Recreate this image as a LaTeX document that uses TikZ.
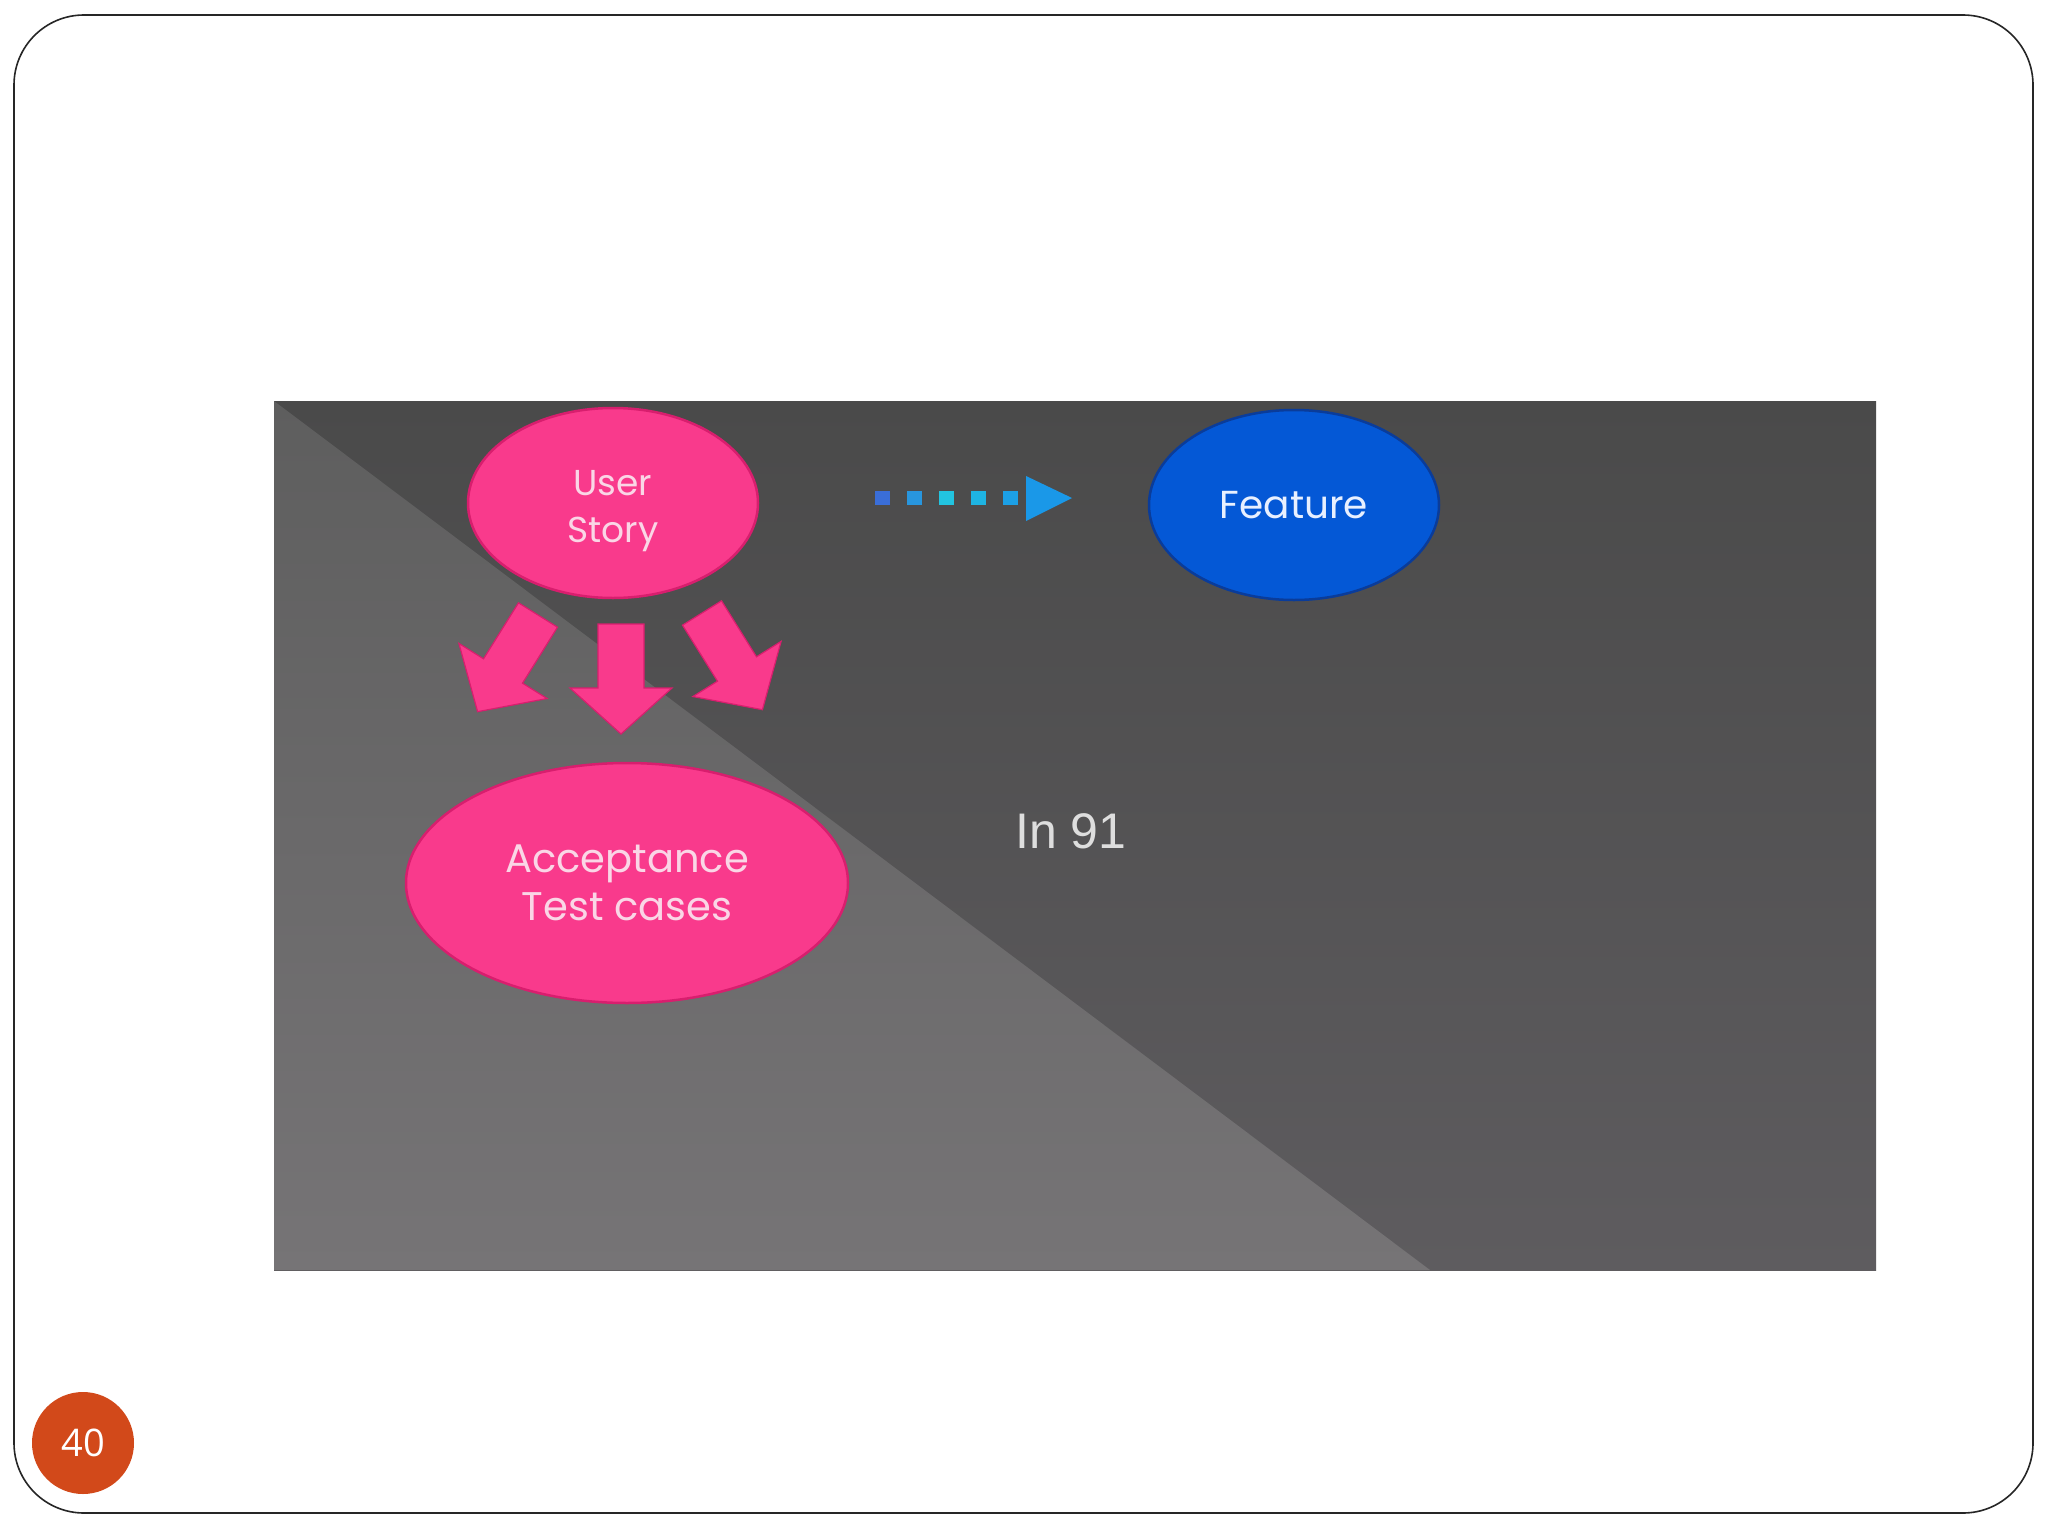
\documentclass[tikz,border=0pt]{standalone}
\usepackage{fontspec}
\newfontfamily\gothic{Poppins}
\newfontfamily\arialf{Liberation Sans}
\newfontfamily\numf{Open Sans}
\usetikzlibrary{shapes.geometric}
\definecolor{pinkfill}{HTML}{F93A8C}
\definecolor{pinkline}{HTML}{D81E6E}
\definecolor{pinktext}{HTML}{FAD6E6}
\definecolor{bluefill}{HTML}{0458D6}
\definecolor{blueline}{HTML}{0A3C9A}
\definecolor{bluetext}{HTML}{E8F0FF}
\definecolor{pagecirc}{HTML}{D2491A}
\definecolor{paneltop}{HTML}{4A4A4A}
\definecolor{panelbot}{HTML}{5E5C5F}
\definecolor{tritop}{HTML}{5E5E5E}
\definecolor{tribot}{HTML}{767476}
\definecolor{dq1}{RGB}{58,110,216}
\definecolor{dq2}{RGB}{40,150,222}
\definecolor{dq3}{RGB}{34,196,224}
\definecolor{dq4}{RGB}{30,180,226}
\definecolor{dq5}{RGB}{28,160,230}
\definecolor{dqtri}{RGB}{26,152,232}
\definecolor{intext}{RGB}{222,222,222}
\tikzset{
  pinkell/.style={ellipse, draw=pinkline, line width=2.5, fill=pinkfill, text=pinktext,
     font=\gothic\fontsize{36}{47}\selectfont, align=center, inner sep=0},
  blueell/.style={ellipse, draw=blueline, line width=2.5, fill=bluefill, text=bluetext,
     font=\gothic\fontsize{39}{47}\selectfont, align=center, inner sep=0},
  blockarrow/.style={fill=pinkfill, draw=pinkline, line width=1.2, line join=miter},
  dotsq/.style={minimum width=15, minimum height=14, inner sep=0, draw=none}
}
\begin{document}
\begin{tikzpicture}[x=1pt,y=-1pt]
\useasboundingbox (0,0) rectangle (2048,1536);
\fill[white] (0,0) rectangle (2048,1536);
% frame
\draw[line width=1.6, draw=black!85, rounded corners=70] (14,15) rectangle (2033,1513);
% panel
\shade[top color=paneltop, bottom color=panelbot] (274,401) rectangle (1876,1270);
\shade[top color=tritop, bottom color=tribot] (274,401) -- (1430,1270) -- (274,1270) -- cycle;
% ellipses
\node[pinkell, minimum width=290, minimum height=190] (us) at (613,503) {};
\node[font=\gothic\fontsize{36}{47}\selectfont, text=pinktext, align=center, inner sep=0] (ustxt) at (613,511) {User\\Story};
\node[pinkell, minimum width=442, minimum height=240, font=\gothic\fontsize{40}{48}\selectfont] (atc) at (627,883) {Acceptance\\Test cases};
\node[blueell, minimum width=290, minimum height=190] (feat) at (1294,505) {Feature};
% block arrows (down pointing template, origin = tail centre)
\begin{scope}[shift={(621,624)}]
  \draw[blockarrow] (-23,0) -- (23,0) -- (23,64) -- (51,64) -- (0,110) -- (-51,64) -- (-23,64) -- cycle;
\end{scope}
\begin{scope}[shift={(538,615)}, rotate=-32]
  \draw[blockarrow] (-23,0) -- (23,0) -- (23,66) -- (52,66) -- (0,114) -- (-52,66) -- (-23,66) -- cycle;
\end{scope}
\begin{scope}[shift={(702,613)}, rotate=32]
  \draw[blockarrow] (-23,0) -- (23,0) -- (23,66) -- (52,66) -- (0,114) -- (-52,66) -- (-23,66) -- cycle;
\end{scope}
% dotted arrow
\node[dotsq, fill=dq1] (d1) at (882,498) {};
\node[dotsq, fill=dq2] (d2) at (914,498) {};
\node[dotsq, fill=dq3] (d3) at (946,498) {};
\node[dotsq, fill=dq4] (d4) at (978,498) {};
\node[dotsq, fill=dq5] (d5) at (1010,498) {};
\coordinate (tipa) at (1072,498);
\fill[dqtri] (1026,476) -- (tipa) -- (1026,521) -- cycle;
% In 91
\node[font=\arialf\fontsize{50}{60}\selectfont, text=intext, inner sep=0] (in91) at (1071,831) {In 91};
% page number
\node[circle, fill=pagecirc, minimum size=102, inner sep=0, text=white, font=\numf\fontsize{38}{40}\selectfont] (pg) at (83,1443) {40};
\end{tikzpicture}
\end{document}
